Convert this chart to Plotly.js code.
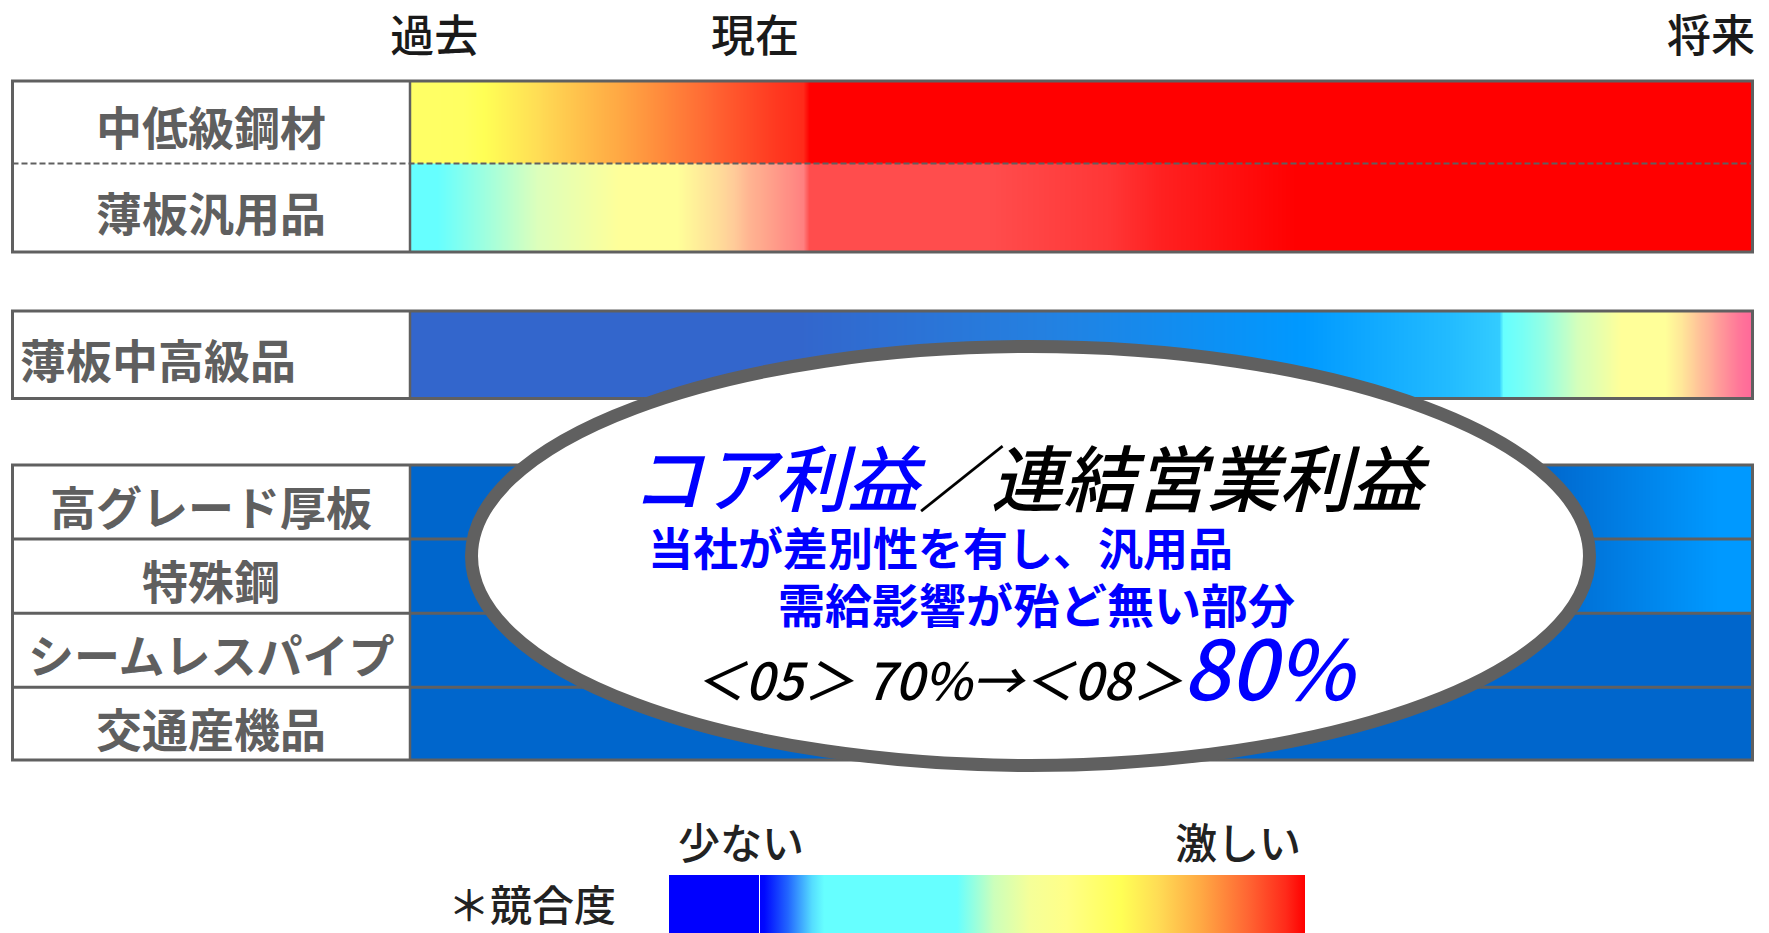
<!DOCTYPE html>
<html>
<head>
<meta charset="utf-8">
<script src="https://cdn.plot.ly/plotly-3.0.1.min.js"></script>
<style>
  html, body { margin: 0; padding: 0; background: #ffffff; }
  #chart { width: 1769px; height: 933px; }
</style>
</head>
<body>
<div id="chart"></div>
<script>
// ================= DATA =================
// time axis: 0 = left end of the bars, 100 = right end
const periodLabels = ['過去', '現在', '将来'];
const periodTimes  = [1.8, 25.7, 96.9];

const products = ['中低級鋼材', '薄板汎用品', '薄板中高級品', '高グレード厚板', '特殊鋼', 'シームレスパイプ', '交通産機品'];

// competition level along the time axis (0 = 少ない … 1 = 激しい)
const tChuteikyu   = [0, 4, 10, 14.4, 18.7, 22.9, 27.2, 29.3, 29.7, 100];
const lvChuteikyu  = [0.682, 0.69, 0.775, 0.825, 0.87, 0.915, 0.955, 0.97, 1.0, 1.0];

const tHanyo       = [0, 2, 9.5, 15.7, 19.9, 22.9, 25.2, 29.3, 29.7, 43, 52, 56, 66, 100];
const lvHanyo      = [0.40, 0.40, 0.52, 0.60, 0.60, 0.667, 0.73, 0.80, 0.88, 0.88, 0.91, 0.94, 1.0, 1.0];

const tChukokyu    = [0, 29, 47, 66.5, 77.3, 81.1, 81.4, 82.8, 84.4, 86.2, 88.1, 90.2, 93.5, 94.4, 96.1, 97.4, 98.9, 100];
const lvChukokyu   = [0.05, 0.05, 0.10, 0.15, 0.175, 0.20, 0.40, 0.415, 0.44, 0.48, 0.53, 0.60, 0.60, 0.64, 0.70, 0.74, 0.78, 0.80];

const tAtsuita     = [0, 84, 97.4, 100];
const lvAtsuita    = [0.10, 0.10, 0.15, 0.15];

const tTokushu     = [0, 84, 97.4, 100];
const lvTokushu    = [0.10, 0.10, 0.15, 0.15];

const tSeamless    = [0, 100];
const lvSeamless   = [0.10, 0.10];

const tKotsu       = [0, 100];
const lvKotsu      = [0.10, 0.10];

const rowTimes  = [tChuteikyu, tHanyo, tChukokyu, tAtsuita, tTokushu, tSeamless, tKotsu];
const rowLevels = [lvChuteikyu, lvHanyo, lvChukokyu, lvAtsuita, lvTokushu, lvSeamless, lvKotsu];

// ================= STYLE / LAYOUT CONFIG =================
const W = 1769, H = 933;
const px = v => v / W;
const FONT = '"Noto Sans CJK JP", "Noto Sans", sans-serif';
const BORDER = '#606060';

// competition-degree legend colour scale (level -> colour)
const legendScale = [
  [0, '#0000FF'], [0.141, '#0000FF'], [0.15, '#0008FF'], [0.187, '#2266FF'],
  [0.225, '#55DDFF'], [0.244, '#66FFFF'], [0.453, '#66FFFF'], [0.511, '#CCFFBB'],
  [0.567, '#F5FF99'], [0.625, '#FFFF88'], [0.711, '#FFFF55'], [0.768, '#FFDD55'],
  [0.835, '#FFAA44'], [0.91, '#FF6633'], [0.97, '#FF2A1A'], [1, '#FF0000']
];
function scaleFrom(levels, colors) {
  const lo = levels[0], hi = levels[levels.length - 1];
  return { cs: levels.map((l, i) => [(l - lo) / (hi - lo), colors[i]]), zmin: lo, zmax: hi };
}
const hanyoScale = scaleFrom(
  [0.40, 0.52, 0.60, 0.70, 0.80, 0.88, 0.94, 1.0],
  ['#66FFFF', '#DDFFBB', '#FFFF99', '#FFCC99', '#FF8080', '#FF4D4D', '#FF2020', '#FF0000']);
const chukokyuScale = scaleFrom(
  [0.05, 0.10, 0.15, 0.175, 0.20, 0.40, 0.45, 0.50, 0.60, 0.65, 0.72, 0.78, 0.80],
  ['#3366CC', '#2480E0', '#0099FF', '#22BBFF', '#33CCFF', '#66FFFF', '#A0FFDD', '#D5FFBB',
   '#FFFF99', '#FFE899', '#FFB099', '#FF7799', '#FF6699']);
const group3Scale = scaleFrom([0.10, 0.15], ['#0066CC', '#0099FF']);
const legendRow = { cs: legendScale, zmin: 0, zmax: 1 };
const rowScales = [legendRow, hanyoScale, chukokyuScale, group3Scale, group3Scale, group3Scale, group3Scale];

// pixel bands of the rows (top, bottom)
const rowBands = [[81, 163.5], [163.5, 252], [311, 398.5], [465, 539], [539, 613.3], [613.3, 687.3], [687.3, 760]];
const groups = [[0, 1], [2], [3, 4, 5, 6]];
const groupDividerDash = ['6px,3px', 'solid', 'solid'];
const labelAlign = ['center', 'center', 'left', 'center', 'center', 'center', 'center'];
const tableLeft = 12.5, labelRight = 410, tableRight = 1752.5;

// ================= TRACES =================
const traces = products.map((name, i) => {
  const [top, bot] = rowBands[i];
  const sc = rowScales[i];
  const tr = {
    type: 'heatmap',
    name: name,
    x: rowTimes[i],
    y: [top, (top + bot) / 2, bot],
    z: [rowLevels[i], rowLevels[i]],
    zsmooth: 'best',
    colorscale: sc.cs,
    zmin: sc.zmin, zmax: sc.zmax,
    showscale: false,
    hoverinfo: 'skip',
    xaxis: 'x', yaxis: 'y'
  };
  if (i === 0) {
    tr.showscale = true;
    tr.colorbar = {
      orientation: 'h',
      x: px(669), xanchor: 'left',
      y: -0.002, yanchor: 'bottom',
      len: 636, lenmode: 'pixels',
      thickness: 60, thicknessmode: 'pixels',
      xpad: 0, ypad: 0,
      outlinewidth: 0,
      showticklabels: false, ticks: ''
    };
  }
  return tr;
});

// ================= SHAPES =================
const shapes = [];
groups.forEach((g, gi) => {
  const top = rowBands[g[0]][0];
  const bot = rowBands[g[g.length - 1]][1];
  for (let k = 1; k < g.length; k++) {
    const yy = rowBands[g[k]][0];
    shapes.push({ type: 'line', xref: 'paper', yref: 'y', x0: px(tableLeft), x1: px(tableRight), y0: yy, y1: yy,
                  line: { color: BORDER, width: groupDividerDash[gi] === 'solid' ? 3 : 2, dash: groupDividerDash[gi] } });
  }
  shapes.push({ type: 'line', xref: 'paper', yref: 'y', x0: px(labelRight), x1: px(labelRight), y0: top, y1: bot,
                line: { color: BORDER, width: 2.5 } });
  shapes.push({ type: 'rect', xref: 'paper', yref: 'y', x0: px(tableLeft), x1: px(tableRight), y0: top, y1: bot,
                line: { color: BORDER, width: 3 }, fillcolor: 'rgba(0,0,0,0)' });
});
// central ellipse
shapes.push({ type: 'circle', xref: 'paper', yref: 'y', x0: px(471.5), x1: px(1589.5), y0: 346.5, y1: 765.5,
              fillcolor: '#FFFFFF', line: { color: '#606060', width: 13 } });

// ================= ANNOTATIONS =================
const annotations = [];
products.forEach((name, i) => {
  const [top, bot] = rowBands[i];
  const left = labelAlign[i] === 'left';
  annotations.push({
    text: name, xref: 'paper', yref: 'y',
    x: left ? px(18) : px((tableLeft + labelRight) / 2), xanchor: left ? 'left' : 'center',
    y: (top + bot) / 2 + 3, yanchor: 'middle', showarrow: false,
    font: { family: FONT, size: 46, color: '#5F5F5F', weight: 'bold' }
  });
});
const ellipseTexts = [
  { text: '<i><span style="color:#0000FF">コア利益</span>／連結営業利益</i>', x: 1030, y: 474, anchor: 'center', size: 72, color: '#000000', weight: 500 },
  { text: '当社が差別性を有し、汎用品', x: 646, y: 546, anchor: 'left', size: 45, color: '#0000FF', weight: 'bold' },
  { text: '需給影響が殆ど無い部分', x: 776, y: 602, anchor: 'left', size: 47, color: '#0000FF', weight: 'bold' },
  { text: '<i>＜05＞ 70%→＜08＞<span style="font-size:82px;color:#0000FF">80%</span></i>', x: 692, y: 664, anchor: 'left', size: 51, color: '#000000', weight: 500 }
];
ellipseTexts.forEach(e => annotations.push({
  text: e.text, xref: 'paper', yref: 'y', x: px(e.x), xanchor: e.anchor, y: e.y, yanchor: 'middle',
  showarrow: false, font: { family: FONT, size: e.size, color: e.color, weight: e.weight }
}));
const legendTexts = [
  { text: '少ない', x: 741, y: 840 },
  { text: '激しい', x: 1238, y: 840 },
  { text: '＊競合度', x: 532, y: 902 }
];
legendTexts.forEach(e => annotations.push({
  text: e.text, xref: 'paper', yref: 'y', x: px(e.x), xanchor: 'center', y: e.y, yanchor: 'middle',
  showarrow: false, font: { family: FONT, size: 42, color: '#222222', weight: 500 }
}));
// thin white separator between the solid blue block and the gradient of the legend bar
annotations.push({
  text: ' ', xref: 'paper', yref: 'paper', x: px(759.5), xanchor: 'center', y: 0, yanchor: 'bottom',
  width: 1, height: 60, bgcolor: '#FFFFFF', borderpad: 0, borderwidth: 0, showarrow: false,
  font: { size: 1 }
});

// ================= LAYOUT =================
const layout = {
  width: W, height: H,
  margin: { l: 0, r: 0, t: 0, b: 0, pad: 0, autoexpand: false },
  paper_bgcolor: '#FFFFFF', plot_bgcolor: 'rgba(0,0,0,0)',
  showlegend: false,
  xaxis: {
    domain: [px(labelRight), px(tableRight)], range: [0, 100],
    side: 'top', anchor: 'free', position: 1 - 81 / H,
    showgrid: false, zeroline: false, showline: false, ticks: '',
    tickmode: 'array', tickvals: periodTimes, ticktext: periodLabels,
    ticklabelstandoff: 20,
    tickfont: { family: FONT, size: 44, color: '#1A1A1A', weight: 500 },
    fixedrange: true
  },
  yaxis: {
    domain: [0, 1], range: [H, 0], visible: false, fixedrange: true
  },
  shapes: shapes,
  annotations: annotations,
  font: { family: FONT }
};

Plotly.newPlot('chart', traces, layout, { displayModeBar: false, staticPlot: true });
</script>
</body>
</html>
